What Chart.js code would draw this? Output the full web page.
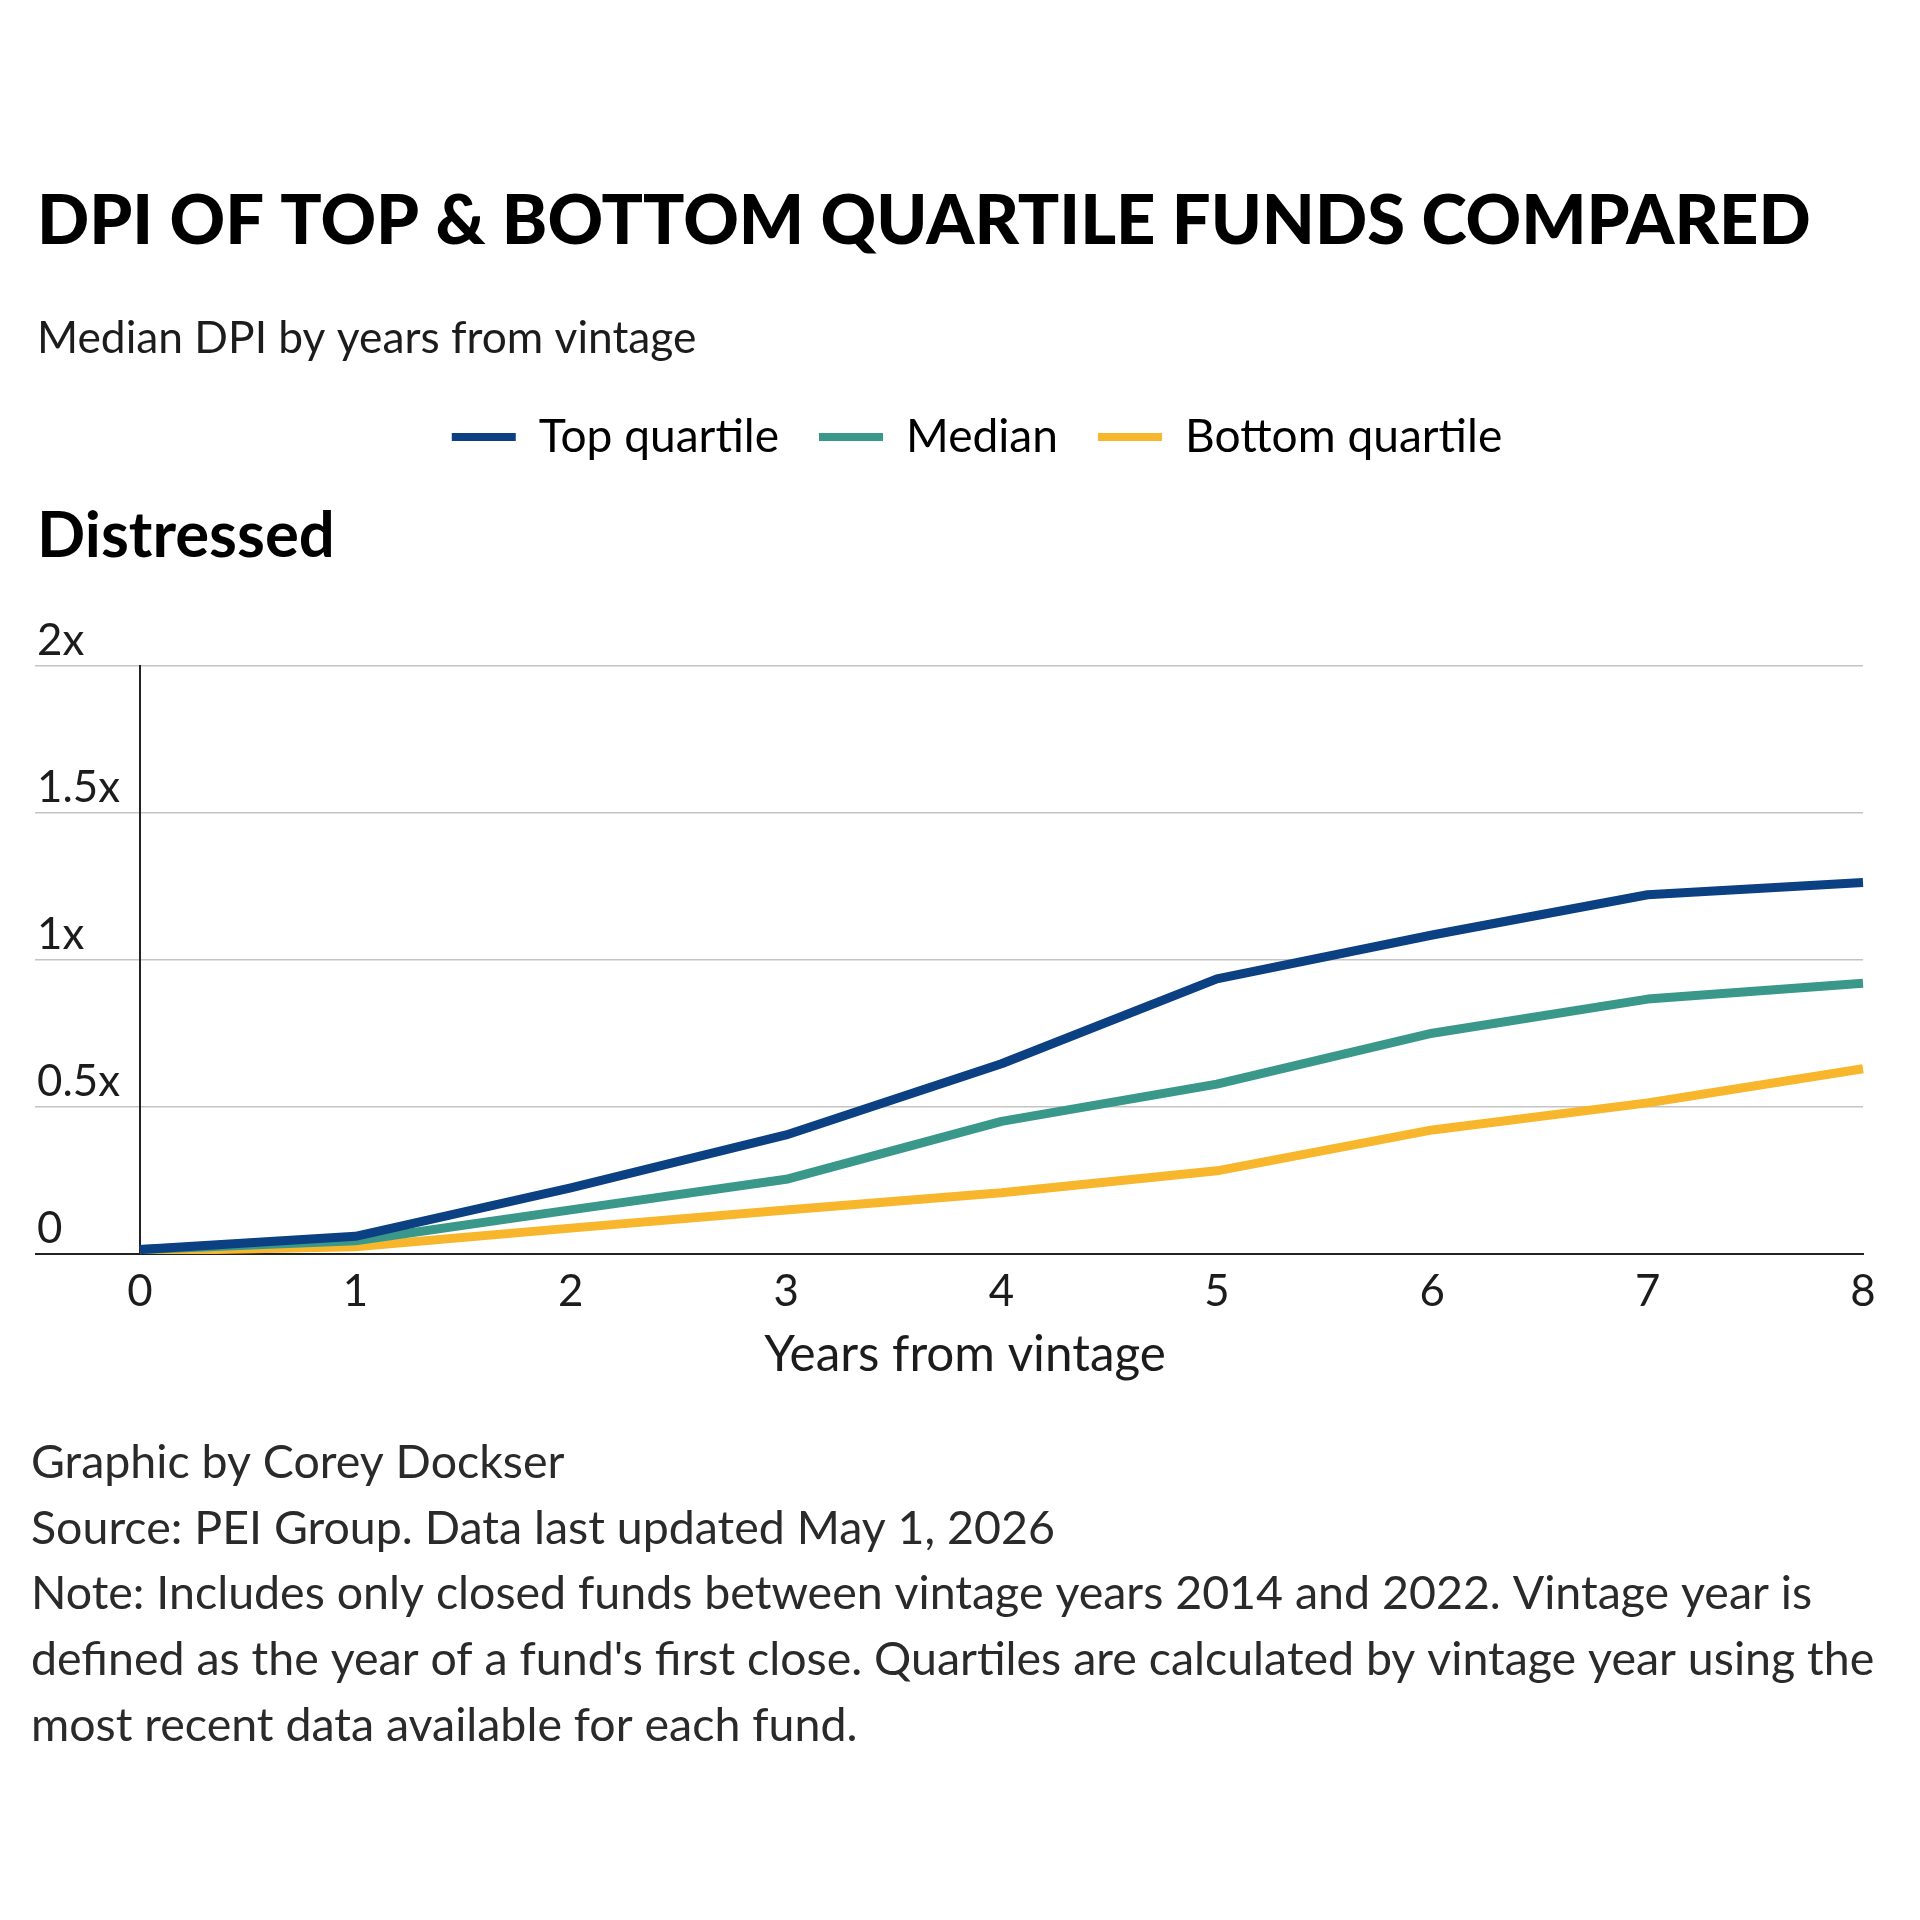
<!DOCTYPE html>
<html>
<head>
<meta charset="utf-8">
<script src="https://cdn.jsdelivr.net/npm/chart.js@4.4.1/dist/chart.umd.min.js"></script>
<style>
  html, body { margin: 0; padding: 0; background: #fff; }
  #wrap { width: 1920px; height: 1920px; }
</style>
</head>
<body>
<div id="wrap"><canvas id="dpi" width="1920" height="1920"></canvas></div>
<script>
// data
var years = ['0', '1', '2', '3', '4', '5', '6', '7', '8'];
var topQuartile = [0.015, 0.06, 0.225, 0.405, 0.647, 0.936, 1.085, 1.222, 1.264];
var median = [0.015, 0.045, 0.15, 0.254, 0.451, 0.578, 0.751, 0.867, 0.921];
var bottomQuartile = [0.01, 0.025, 0.088, 0.15, 0.208, 0.283, 0.422, 0.514, 0.63];
var yTicks = [0, 0.5, 1, 1.5, 2];
var yTickLabels = ['0', '0.5x', '1x', '1.5x', '2x'];

var titleText = 'DPI OF TOP & BOTTOM QUARTILE FUNDS COMPARED';
var subtitleText = 'Median DPI by years from vintage';
var panelText = 'Distressed';
var xTitleText = 'Years from vintage';
var footer = [
  'Graphic by Corey Dockser',
  'Source: PEI Group. Data last updated May 1, 2026',
  'Note: Includes only closed funds between vintage years 2014 and 2022. Vintage year is',
  "defined as the year of a fund's first close. Quartiles are calculated by vintage year using the",
  'most recent data available for each fund.'
];

var FONT = 'Lato';
var ink = '#1c1c1c';

// pick font sizes so text widths match the picture
var mctx = document.createElement('canvas').getContext('2d');
function fit(text, weight, width) {
  mctx.font = weight + ' 100px ' + FONT;
  return Math.round(1000 * width / mctx.measureText(text).width) / 10;
}
var titleSize = fit(titleText, 900, 1774);
var subSize = fit(subtitleText, 400, 659);
var panelSize = fit(panelText, 700, 298);
var legendSize = fit('Bottom quartile', 400, 317);
var tickSize = fit('1.5x', 400, 83);
var xTitleSize = fit(xTitleText, 400, 402);
var footSize = fit(footer[2], 400, 1782);

var chartTop = 666, chartBottom = 1254;
var legendPad = 40;
var titleLH = titleSize * 1.2;
var titlePadTop = 222 - titleLH / 2;
var legendTop = 437 - legendPad - legendSize / 2;
var titlePadBottom = legendTop - titlePadTop - titleLH;
var legendBottom = legendTop + legendSize + legendPad + 10;
var panelLH = panelSize * 1.2;
var panelPadTop = 537 - legendBottom - panelLH / 2;
var panelPadBottom = chartTop - legendBottom - panelPadTop - panelLH;

var extraText = {
  id: 'extraText',
  afterLayout: function(chart) {
    // legend sits a little right of the canvas centre in the picture
    chart.legend.left += 27;
    chart.legend.right += 27;
  },
  afterDraw: function(chart) {
    var c = chart.ctx;
    c.save();
    c.fillStyle = ink;
    c.textBaseline = 'middle';
    c.textAlign = 'left';
    c.font = '400 ' + subSize + 'px ' + FONT;
    c.fillText(subtitleText, 37, 339);
    c.textAlign = 'center';
    c.font = '400 ' + xTitleSize + 'px ' + FONT;
    c.fillText(xTitleText, 965, 1355);
    c.textAlign = 'left';
    c.fillStyle = '#2a2a2a';
    c.font = '400 ' + footSize + 'px ' + FONT;
    var ys = [1463, 1529, 1594, 1660, 1726];
    footer.forEach(function(line, i) { c.fillText(line, 31, ys[i]); });
    c.restore();
  }
};

var ctx = document.getElementById('dpi').getContext('2d');
var myChart = new Chart(ctx, {
  type: 'line',
  data: {
    labels: years,
    datasets: [{
      label: 'Top quartile',
      data: topQuartile,
      borderColor: '#0b4082',
      backgroundColor: '#0b4082'
    }, {
      label: 'Median',
      data: median,
      borderColor: '#3a988b',
      backgroundColor: '#3a988b'
    }, {
      label: 'Bottom quartile',
      data: bottomQuartile,
      borderColor: '#f8b62c',
      backgroundColor: '#f8b62c'
    }]
  },
  options: {
    responsive: false,
    animation: false,
    devicePixelRatio: 1,
    layout: { padding: { top: 0, left: 37, right: 57, bottom: 1920 - chartBottom - 60 } },
    elements: {
      line: { borderWidth: 9, tension: 0, borderCapStyle: 'butt', borderJoinStyle: 'round' },
      point: { radius: 0, hoverRadius: 0 }
    },
    plugins: {
      tooltip: { enabled: false },
      title: {
        display: true,
        text: titleText,
        align: 'start',
        color: '#000',
        font: { family: FONT, weight: 900, size: titleSize, lineHeight: 1.2 },
        padding: { top: titlePadTop, bottom: titlePadBottom }
      },
      legend: {
        display: true,
        position: 'top',
        align: 'center',
        labels: {
          boxWidth: 64,
          boxHeight: 8,
          padding: legendPad,
          color: ink,
          font: { family: FONT, size: legendSize },
          generateLabels: function(chart) {
            return chart.data.datasets.map(function(ds, i) {
              return { text: ds.label, fillStyle: ds.borderColor, strokeStyle: ds.borderColor, lineWidth: 0, datasetIndex: i };
            });
          }
        }
      },
      subtitle: {
        display: true,
        text: panelText,
        align: 'start',
        weight: 500,
        color: '#000',
        font: { family: FONT, weight: 700, size: panelSize, lineHeight: 1.2 },
        padding: { top: panelPadTop, bottom: panelPadBottom }
      }
    },
    scales: {
      x: {
        type: 'category',
        offset: false,
        grid: { display: false, drawTicks: false },
        border: { display: true, color: '#222', width: 2 },
        ticks: { color: ink, padding: 12, font: { family: FONT, size: tickSize } },
        afterFit: function(s) { s.height = 60; }
      },
      y: {
        min: 0,
        max: 2,
        afterBuildTicks: function(s) { s.ticks = yTicks.map(function(v) { return { value: v }; }); },
        grid: {
          color: function(c) { return c.tick && c.tick.value === 0 ? '#222' : '#c4c4c4'; },
          lineWidth: function(c) { return c.tick && c.tick.value === 0 ? 2 : 1.5; },
          drawTicks: true,
          tickLength: 105
        },
        border: { display: true, color: '#222', width: 2 },
        ticks: {
          color: ink,
          crossAlign: 'far',
          labelOffset: -25,
          padding: 0,
          font: { family: FONT, size: tickSize },
          callback: function(v) { return yTickLabels[yTicks.indexOf(v)]; }
        },
        afterFit: function(s) { s.width = 103; }
      }
    }
  },
  plugins: [extraText]
});
</script>
</body>
</html>
